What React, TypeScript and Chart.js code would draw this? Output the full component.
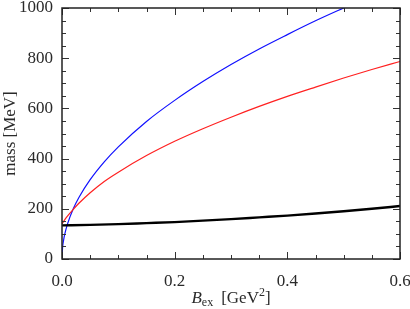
import { useEffect, useRef } from "react";
import { Chart, registerables } from "chart.js";

Chart.register(...registerables);

const blueB = [0, 0.001, 0.003, 0.005, 0.01, 0.02, 0.03, 0.05, 0.075, 0.1, 0.15, 0.2, 0.25, 0.3, 0.35, 0.4, 0.45, 0.5, 0.52];
const blueMass = [0, 45, 77, 100, 141, 200, 245, 316, 387, 447, 548, 632, 707, 775, 837, 894, 949, 1000, 1020];

const redB = [0, 0.005, 0.01, 0.02, 0.03, 0.05, 0.075, 0.1, 0.15, 0.2, 0.25, 0.3, 0.35, 0.4, 0.45, 0.5, 0.55, 0.6];
const redMass = [140, 157, 172, 198, 222, 264, 309, 346, 412, 469, 519, 565, 608, 648, 685, 721, 755, 787];

const blackB = [0, 0.05, 0.1, 0.15, 0.2, 0.25, 0.3, 0.35, 0.4, 0.45, 0.5, 0.55, 0.6];
const blackMass = [134, 136, 139, 143, 147, 153, 159, 166, 173, 181, 190, 200, 211];

const xTicks = [0, 0.2, 0.4, 0.6];
const yTicks = [0, 200, 400, 600, 800, 1000];
const xMinorStep = 0.05;
const yMinorStep = 50;

const FONT = "'Liberation Serif', 'DejaVu Serif', serif";
const TEXT = "#2a2a2a";

function pts(xs: number[], ys: number[]) {
  return xs.map((x, i) => ({ x, y: ys[i] }));
}

const framePlugin = {
  id: "frame",
  afterDatasetsDraw(chart: any) {
    const { ctx, chartArea: a, scales } = chart;
    const xs = scales.x;
    const ys = scales.y;
    ctx.save();
    ctx.strokeStyle = "#333";
    ctx.lineWidth = 1;
    const major = 7;
    const minor = 4;
    for (let v = 0; v <= 0.6 + 1e-9; v += xMinorStep) {
      const isMajor = xTicks.some((t) => Math.abs(t - v) < 1e-6);
      const len = isMajor ? major : minor;
      const px = Math.round(xs.getPixelForValue(v)) + 0.5;
      ctx.beginPath();
      ctx.moveTo(px, a.bottom);
      ctx.lineTo(px, a.bottom - len);
      ctx.moveTo(px, a.top);
      ctx.lineTo(px, a.top + len);
      ctx.stroke();
    }
    for (let v = 0; v <= 1000 + 1e-9; v += yMinorStep) {
      const isMajor = yTicks.some((t) => Math.abs(t - v) < 1e-6);
      const len = isMajor ? major : minor;
      const py = Math.round(ys.getPixelForValue(v)) + 0.5;
      ctx.beginPath();
      ctx.moveTo(a.left, py);
      ctx.lineTo(a.left + len, py);
      ctx.moveTo(a.right, py);
      ctx.lineTo(a.right - len, py);
      ctx.stroke();
    }
    ctx.lineWidth = 1.5;
    ctx.strokeStyle = "#222";
    ctx.strokeRect(a.left, a.top, a.right - a.left, a.bottom - a.top);

    // x title: B_ex [GeV^2]
    const cx = (a.left + a.right) / 2;
    const base = 303;
    ctx.fillStyle = TEXT;
    ctx.textBaseline = "alphabetic";
    ctx.textAlign = "left";
    const fMain = `17px ${FONT}`;
    const fItal = `italic 17px ${FONT}`;
    const fSmall = `12px ${FONT}`;
    const parts = [
      { t: "B", f: fItal, dy: 0, gap: 0 },
      { t: "ex", f: fSmall, dy: 3, gap: 0 },
      { t: "[GeV", f: fMain, dy: 0, gap: 8 },
      { t: "2", f: fSmall, dy: -7, gap: 0 },
      { t: "]", f: fMain, dy: 0, gap: 0 },
    ];
    let total = 0;
    for (const p of parts) {
      ctx.font = p.f;
      total += ctx.measureText(p.t).width + p.gap;
    }
    let x = cx - total / 2;
    for (const p of parts) {
      ctx.font = p.f;
      x += p.gap;
      ctx.fillText(p.t, x, base + p.dy);
      x += ctx.measureText(p.t).width;
    }
    ctx.restore();
  },
};

function zeroPad(s: any) {
  s.paddingLeft = 0;
  s.paddingRight = 0;
  s.paddingTop = 0;
  s.paddingBottom = 0;
}

export default function App() {
  const ref = useRef<HTMLCanvasElement>(null);
  useEffect(() => {
    document.body.style.margin = "0";
    const chart = new Chart(ref.current!, {
      type: "line",
      data: {
        datasets: [
          {
            data: pts(blackB, blackMass),
            borderColor: "#000000",
            borderWidth: 2.4,
            pointRadius: 0,
            cubicInterpolationMode: "monotone",
          },
          {
            data: pts(redB, redMass),
            borderColor: "#ff2020",
            borderWidth: 1.2,
            pointRadius: 0,
            cubicInterpolationMode: "monotone",
          },
          {
            data: pts(blueB, blueMass),
            borderColor: "#1010ff",
            borderWidth: 1.2,
            pointRadius: 0,
            cubicInterpolationMode: "monotone",
          },
        ],
      },
      plugins: [framePlugin],
      options: {
        animation: false,
        responsive: false,
        maintainAspectRatio: false,
        layout: { autoPadding: false, padding: { top: 8, right: 10, left: 0, bottom: 0 } },
        plugins: {
          legend: { display: false },
          tooltip: { enabled: false },
        },
        scales: {
          x: {
            type: "linear",
            min: 0,
            max: 0.6,
            grid: { display: false, drawTicks: false },
            border: { display: false },
            afterFit: (s: any) => {
              s.height = 50;
              zeroPad(s);
            },
            afterBuildTicks: (s: any) => {
              s.ticks = xTicks.map((v) => ({ value: v }));
            },
            ticks: {
              padding: 12,
              color: TEXT,
              font: { family: FONT, size: 17 },
              callback: (v: any) => Number(v).toFixed(1),
              maxRotation: 0,
            },
          },
          y: {
            type: "linear",
            min: 0,
            max: 1000,
            grid: { display: false, drawTicks: false },
            border: { display: false },
            afterFit: (s: any) => {
              s.width = 62;
              zeroPad(s);
            },
            afterBuildTicks: (s: any) => {
              s.ticks = yTicks.map((v) => ({ value: v }));
            },
            title: {
              display: true,
              text: "mass [MeV]",
              color: TEXT,
              font: { family: FONT, size: 17 },
              padding: 0,
            },
            ticks: {
              padding: 9,
              color: TEXT,
              font: { family: FONT, size: 17 },
              callback: (v: any) => String(v),
            },
          },
        },
      },
    } as any);
    return () => chart.destroy();
  }, []);
  return (
    <div style={{ position: "absolute", left: 0, top: 0, width: 410, height: 309 }}>
      <canvas ref={ref} width={410} height={309} style={{ width: 410, height: 309 }} />
    </div>
  );
}
